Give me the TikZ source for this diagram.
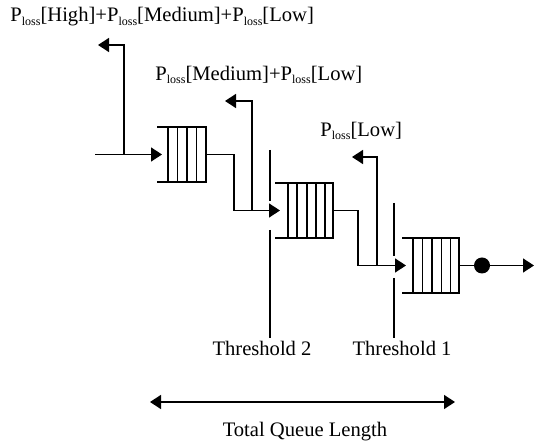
\documentclass[tikz,border=0pt]{standalone}
\usepackage{fontspec}
\setmainfont{Liberation Serif}
\usetikzlibrary{arrows.meta, positioning, calc}

\tikzset{
  wire/.style={line width=0.7pt},
  feed/.style={wire, -{Triangle[length=5.5pt, width=7pt]}},
  lbl/.style={font=\fontsize{10.3}{12}\selectfont, inner sep=0pt},
  qbox/.style={inner sep=0pt, outer sep=0pt, anchor=north west, minimum height=27.5pt}
}
\newcommand{\Pl}{P\raisebox{-0.35ex}{\fontsize{6}{6}\selectfont loss}}

\begin{document}
\begin{tikzpicture}[x=0.5pt, y=-0.5pt]
\useasboundingbox (0,0) rectangle (535,442);

% queues
\node[qbox, minimum width=24.5pt] (q1) at (157,127) {};
\node[qbox, minimum width=29pt] (q2) at (275,183) {};
\node[qbox, minimum width=28.5pt] (q3) at (402,238) {};
\foreach \q in {q1,q2,q3}
  \draw[wire] (\q.north west) -- (\q.north east) -- (\q.south east) -- (\q.south west);
\foreach \x in {168,177.5,187,196.5}
  \draw[wire] (\x,127) -- (\x,182);
\foreach \x in {288,297,307,316,325}
  \draw[wire] (\x,183) -- (\x,238);
\foreach \x in {413,422.5,432,441.5,450.5}
  \draw[wire] (\x,238) -- (\x,293);

% labels
\node[lbl, anchor=west] (t1) at (10,17) {\Pl[High]+\Pl[Medium]+\Pl[Low]};
\node[lbl, anchor=west] (t2) at (155,75) {\Pl[Medium]+\Pl[Low]};
\node[lbl, anchor=west] (t3) at (320,131) {\Pl[Low]};
\node[lbl] (th2) at (262,348) {Threshold 2};
\node[lbl] (th1) at (402,348) {Threshold 1};
\node[lbl] (tql) at (305,432) {Total Queue Length};

% flow through the queues
\coordinate (in) at (95,154.5);
\coordinate (b1) at (234,180);
\coordinate (b2) at (358,240);
\draw[feed] (in) -- ([xshift=2.5pt]q1.west);
\draw[feed] (q1.east) -| (b1) |- ([xshift=2.5pt]q2.west);
\draw[feed] (q2.east) -| (b2) |- ([xshift=2pt]q3.west);
\node[circle, fill, inner sep=0pt, minimum size=8pt] (srv) at (482,265.5) {};
\coordinate (out) at (534,265.5);
\draw[wire] (q3.east) -- (srv);
\draw[feed] (srv) -- (out);

% loss feedback
\coordinate (f1) at (124,154.5);
\coordinate (f2) at (252,210.5);
\coordinate (f3) at (377,265.5);
\coordinate (l1) at (98,45);
\coordinate (l2) at (225,101);
\coordinate (l3) at (352,157);
\draw[feed] (f1) |- (l1);
\draw[feed] (f2) |- (l2);
\draw[feed] (f3) |- (l3);

% thresholds
\draw[wire] (270,150) -- (270,201) (270,230) -- (270,338);
\draw[wire] (394,203) -- (394,256) (394,278) -- (394,338);

% total length
\coordinate (tl) at (150,402);
\coordinate (tr) at (455,402);
\draw[wire, {Triangle[length=5.5pt, width=7pt]}-{Triangle[length=5.5pt, width=7pt]}] (tl) -- (tr);
\end{tikzpicture}
\end{document}
